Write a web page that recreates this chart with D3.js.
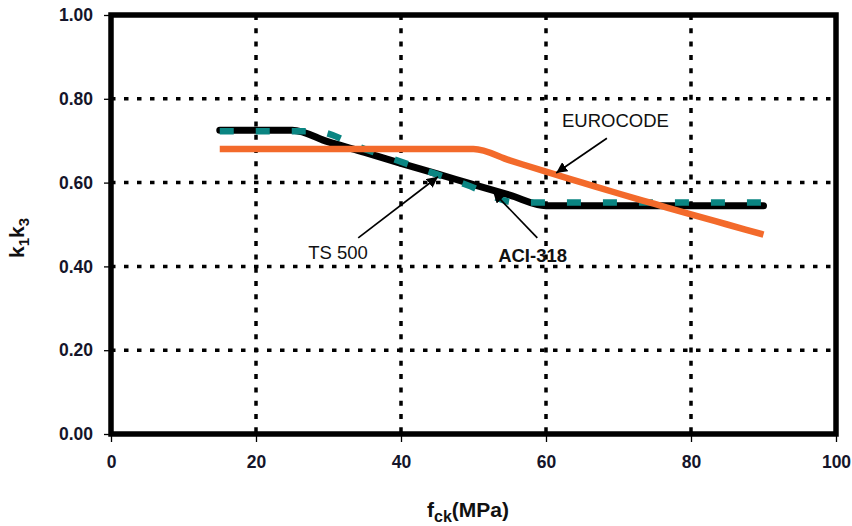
<!DOCTYPE html>
<html>
<head>
<meta charset="utf-8">
<script src="https://cdn.jsdelivr.net/npm/d3@7"></script>
<style>
  body { margin: 0; background: #fff; }
  text { font-family: "Liberation Sans", Arial, sans-serif; }
</style>
</head>
<body>
<div id="chart"></div>
<script>
// values
const xTicks = [0, 20, 40, 60, 80, 100];
const yTicks = [0, 0.2, 0.4, 0.6, 0.8, 1.0];

const ts500 = [
  [15, 0.725], [20, 0.725], [25, 0.725], [30, 0.697], [35, 0.672], [40, 0.646],
  [45, 0.621], [50, 0.595], [55, 0.570], [60, 0.545], [65, 0.545], [70, 0.545],
  [75, 0.545], [80, 0.545], [85, 0.545], [90, 0.545]
];
const aci318 = [
  [15, 0.7225], [20, 0.7225], [25, 0.7225], [28, 0.7225], [35, 0.68], [42, 0.6375],
  [49, 0.595], [56, 0.5525], [60, 0.5525], [65, 0.5525], [70, 0.5525], [75, 0.5525],
  [80, 0.5525], [85, 0.5525], [90, 0.5525]
];
const eurocode = [
  [15, 0.68], [20, 0.68], [25, 0.68], [30, 0.68], [35, 0.68], [40, 0.68], [45, 0.68],
  [50, 0.68], [55, 0.653], [60, 0.626], [65, 0.600], [70, 0.574], [75, 0.549],
  [80, 0.524], [85, 0.500], [90, 0.476]
];

// annotation text + arrow (tail -> tip) in data units
const notes = [
  { label: "TS 500", bold: false, tx: 27.2, ty: 0.418, from: [34.1, 0.468], to: [45.1, 0.614] },
  { label: "EUROCODE", bold: false, tx: 62.2, ty: 0.733, from: [68.4, 0.706], to: [61.4, 0.623] },
  { label: "ACI-318", bold: true, tx: 53.4, ty: 0.410, from: [58.8, 0.468], to: [52.7, 0.578] }
];

const W = 852, H = 526;
const plot = { left: 111, right: 836, top: 15, bottom: 434 };

const svg = d3.select("#chart")
  .append("svg")
  .attr("width", W)
  .attr("height", H);

const xScale = d3.scaleLinear().domain([0, 100]).range([plot.left, plot.right]);
const yScale = d3.scaleLinear().domain([0, 1]).range([plot.bottom, plot.top]);

// dotted grid
svg.append("g")
  .selectAll("line")
  .data(yTicks.slice(1, -1))
  .enter()
  .append("line")
  .attr("x1", plot.left).attr("x2", plot.right)
  .attr("y1", (d) => yScale(d)).attr("y2", (d) => yScale(d))
  .style("stroke", "#000")
  .style("stroke-width", 3.5)
  .style("stroke-dasharray", "4.5,8.5");

svg.append("g")
  .selectAll("line")
  .data(xTicks.slice(1, -1))
  .enter()
  .append("line")
  .attr("x1", (d) => xScale(d)).attr("x2", (d) => xScale(d))
  .attr("y1", plot.top).attr("y2", plot.bottom)
  .style("stroke", "#000")
  .style("stroke-width", 3.5)
  .style("stroke-dasharray", "5,8.3");

// axes
const xAxis = d3.axisBottom(xScale).tickValues(xTicks).tickSize(8).tickPadding(14)
  .tickFormat(d3.format("d"));
const yAxis = d3.axisLeft(yScale).tickValues(yTicks).tickSize(7).tickPadding(11)
  .tickFormat(d3.format(".2f"));

const gx = svg.append("g")
  .attr("transform", `translate(0,${plot.bottom})`)
  .call(xAxis);
const gy = svg.append("g")
  .attr("transform", `translate(${plot.left},0)`)
  .call(yAxis);

[gx, gy].forEach((g) => {
  g.select(".domain").remove();
  g.selectAll(".tick line").style("stroke", "#000").style("stroke-width", 1.3);
  g.selectAll(".tick text")
    .style("font-size", "17.5px")
    .style("font-weight", "bold")
    .style("fill", "#15152a");
});

// series
const line = d3.line()
  .x((d) => xScale(d[0]))
  .y((d) => yScale(d[1]))
  .curve(d3.curveMonotoneX);

svg.append("path")
  .datum(ts500)
  .attr("d", line)
  .style("fill", "none")
  .style("stroke", "#000")
  .style("stroke-width", 7)
  .style("stroke-linecap", "round");

svg.append("path")
  .datum(aci318)
  .attr("d", line)
  .style("fill", "none")
  .style("stroke", "#0a8582")
  .style("stroke-width", 6.5)
  .style("stroke-dasharray", "14,22");

svg.append("path")
  .datum(eurocode)
  .attr("d", line)
  .style("fill", "none")
  .style("stroke", "#f36a2b")
  .style("stroke-width", 6.5);

// frame
svg.append("rect")
  .attr("x", plot.left)
  .attr("y", plot.top)
  .attr("width", plot.right - plot.left)
  .attr("height", plot.bottom - plot.top)
  .style("fill", "none")
  .style("stroke", "#000")
  .style("stroke-width", 5.5);

// arrows
svg.append("defs")
  .append("marker")
  .attr("id", "head")
  .attr("viewBox", "0 0 10 10")
  .attr("refX", 10).attr("refY", 5)
  .attr("markerWidth", 11).attr("markerHeight", 11)
  .attr("markerUnits", "userSpaceOnUse")
  .attr("orient", "auto")
  .append("path")
  .attr("d", "M0,0 L10,5 L0,10 Z")
  .style("fill", "#000");

svg.append("g")
  .selectAll("line")
  .data(notes)
  .enter()
  .append("line")
  .attr("x1", (d) => xScale(d.from[0])).attr("y1", (d) => yScale(d.from[1]))
  .attr("x2", (d) => xScale(d.to[0])).attr("y2", (d) => yScale(d.to[1]))
  .style("stroke", "#000")
  .style("stroke-width", 1.7)
  .attr("marker-end", "url(#head)");

svg.append("g")
  .selectAll("text")
  .data(notes)
  .enter()
  .append("text")
  .attr("x", (d) => xScale(d.tx))
  .attr("y", (d) => yScale(d.ty))
  .style("font-size", "18.5px")
  .style("font-weight", (d) => (d.bold ? "bold" : "normal"))
  .style("fill", "#111")
  .text((d) => d.label);

// axis titles
svg.append("text")
  .attr("x", 427)
  .attr("y", 517)
  .style("font-size", "21px")
  .style("font-weight", "bold")
  .style("fill", "#111")
  .call((t) => {
    t.append("tspan").text("f");
    t.append("tspan").attr("dy", 5).style("font-size", "16px").text("ck");
    t.append("tspan").attr("dy", -5).text("(MPa)");
  });

svg.append("text")
  .attr("transform", "translate(24,238) rotate(-90)")
  .attr("text-anchor", "middle")
  .style("font-size", "21px")
  .style("font-weight", "bold")
  .style("fill", "#111")
  .call((t) => {
    t.append("tspan").text("k");
    t.append("tspan").attr("dy", 5).style("font-size", "15px").text("1");
    t.append("tspan").attr("dy", -5).text("k");
    t.append("tspan").attr("dy", 5).style("font-size", "15px").text("3");
  });
</script>
</body>
</html>
